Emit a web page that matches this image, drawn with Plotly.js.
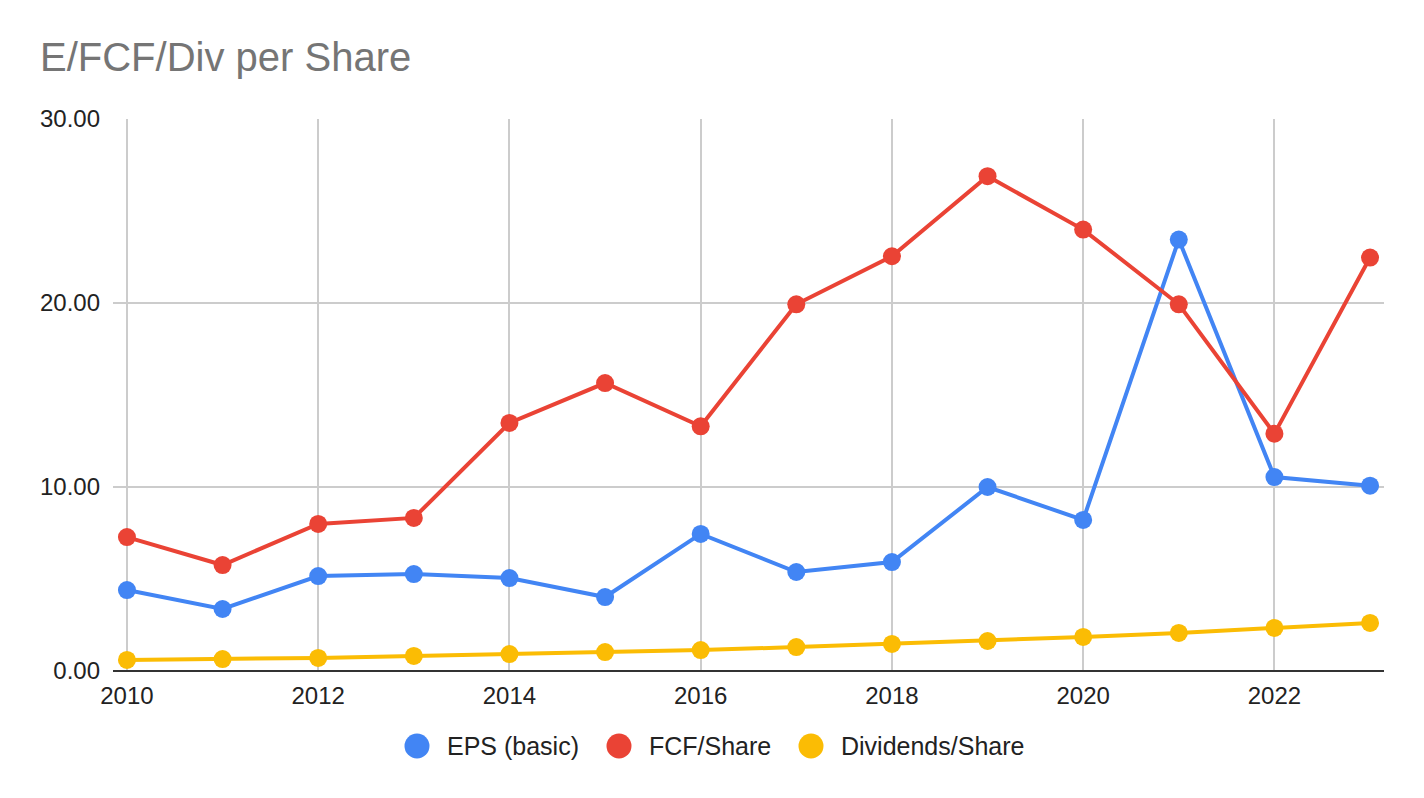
<!DOCTYPE html>
<html>
<head>
<meta charset="utf-8">
<script src="https://cdn.plot.ly/plotly-3.0.1.min.js"></script>
<style>
  html, body { margin: 0; padding: 0; background: #fff; }
  #chart { width: 1424px; height: 798px; }
</style>
</head>
<body>
<div id="chart"></div>
<script>
// ── Data ─────────────────────────────────────
const years = [2010, 2011, 2012, 2013, 2014, 2015, 2016, 2017, 2018, 2019, 2020, 2021, 2022, 2023];
const epsBasic = [4.40, 3.37, 5.16, 5.27, 5.05, 4.02, 7.45, 5.38, 5.92, 10.00, 8.21, 23.45, 10.54, 10.07];
const fcfShare = [7.28, 5.76, 7.99, 8.32, 13.48, 15.65, 13.30, 19.93, 22.54, 26.89, 23.99, 19.93, 12.90, 22.47];
const divShare = [0.60, 0.65, 0.71, 0.82, 0.92, 1.03, 1.14, 1.30, 1.47, 1.63, 1.85, 2.07, 2.34, 2.61];
const seriesNames = ["EPS (basic)", "FCF/Share", "Dividends/Share"];
const seriesColors = ["#4285F4", "#EA4335", "#FBBC04"];

const FONT = "Liberation Sans, Arial, sans-serif";
const W = 1424, H = 798;
const M = { l: 113, r: 40, t: 119, b: 127 };

// px -> paper helpers (plot area is W-l-r by H-t-b)
const px2x = (px) => (px - M.l) / (W - M.l - M.r);
const px2y = (py) => (H - M.b - py) / (H - M.t - M.b);

// ── Traces ───────────────────────────────────
const values = [epsBasic, fcfShare, divShare];
const traces = values.map((ys, i) => ({
  type: "scatter",
  mode: "lines+markers",
  x: years,
  y: ys,
  name: seriesNames[i],
  line: { color: seriesColors[i], width: 4 },
  marker: { color: seriesColors[i], size: 18 },
  hovertemplate: "%{x}: %{y:.2f}<extra>" + seriesNames[i] + "</extra>",
}));

// ── Legend (drawn by hand: big round dots like Sheets) ──
const legendDotPx = [417, 619, 811];
const legendY = px2y(746);
const legendShapes = seriesNames.map((_, i) => ({
  type: "circle",
  xref: "paper",
  yref: "paper",
  xsizemode: "pixel",
  ysizemode: "pixel",
  xanchor: px2x(legendDotPx[i]),
  yanchor: legendY,
  x0: -12.5, x1: 12.5,
  y0: -12.5, y1: 12.5,
  fillcolor: seriesColors[i],
  line: { width: 0 },
}));
const legendLabels = seriesNames.map((name, i) => ({
  text: name,
  xref: "paper",
  yref: "paper",
  x: px2x(legendDotPx[i] + 28),
  y: legendY,
  xanchor: "left",
  yanchor: "middle",
  showarrow: false,
  font: { family: FONT, size: 25, color: "#222222" },
}));

// ── Layout ───────────────────────────────────
const pad = 0.146;
const layout = {
  width: W,
  height: H,
  margin: M,
  paper_bgcolor: "#ffffff",
  plot_bgcolor: "#ffffff",
  font: { family: FONT, size: 24, color: "#222222" },
  title: {
    text: "E/FCF/Div per Share",
    font: { family: FONT, size: 40, color: "#757575" },
    xref: "container",
    yref: "container",
    x: 40 / W,
    xanchor: "left",
    y: 1 - 57 / H,
    yanchor: "middle",
  },
  xaxis: {
    range: [years[0] - pad, years[years.length - 1] + pad],
    tick0: 2010,
    dtick: 2,
    showgrid: true,
    gridcolor: "#cccccc",
    gridwidth: 2,
    zeroline: false,
    showline: false,
    ticks: "",
    ticklabelstandoff: 8,
    tickfont: { family: FONT, size: 24, color: "#222222" },
  },
  yaxis: {
    range: [0, 30],
    dtick: 10,
    tickformat: ".2f",
    showgrid: true,
    gridcolor: "#cccccc",
    gridwidth: 2,
    zeroline: true,
    zerolinecolor: "#333333",
    zerolinewidth: 2,
    ticks: "",
    ticklabelstandoff: 12,
    tickfont: { family: FONT, size: 24, color: "#222222" },
  },
  showlegend: false,
  shapes: legendShapes,
  annotations: legendLabels,
  hovermode: "closest",
};

Plotly.newPlot("chart", traces, layout, { displayModeBar: false, responsive: false });
</script>
</body>
</html>
